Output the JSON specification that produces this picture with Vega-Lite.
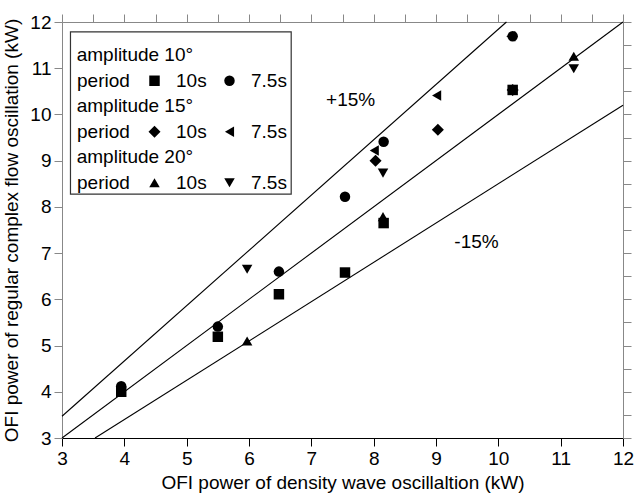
{
  "$schema": "https://vega.github.io/schema/vega-lite/v6.json",
  "width": 561,
  "height": 416,
  "autosize": "none",
  "padding": {"left": 62, "top": 22, "right": 12, "bottom": 55},
  "background": "white",
  "config": {
    "view": {"stroke": null},
    "font": "Liberation Sans",
    "axis": {
      "labelFont": "Liberation Sans",
      "labelFontSize": 19,
      "labelColor": "black",
      "titleFont": "Liberation Sans",
      "titleFontSize": 19,
      "titleFontWeight": "normal",
      "titleColor": "black",
      "grid": false,
      "labelOverlap": false,
      "labelFlush": false
    },
    "legend": {
      "labelFont": "Liberation Sans",
      "labelFontSize": 19,
      "labelColor": "black",
      "titleFont": "Liberation Sans",
      "titleFontSize": 19,
      "titleFontWeight": "normal",
      "titleColor": "black",
      "symbolSize": 110,
      "symbolFillColor": "black",
      "symbolStrokeColor": "black",
      "symbolStrokeWidth": 0,
      "labelOffset": 12,
      "columnPadding": 13,
      "titlePadding": 15,
      "titleOrient": "left",
      "padding": 0,
      "titleLimit": 400,
      "labelLimit": 200
    }
  },
  "datasets": {
    "points": [
      {"amplitude": "10°", "period": "10s", "x": 3.95, "y": 4.0},
      {"amplitude": "10°", "period": "10s", "x": 5.5, "y": 5.19},
      {"amplitude": "10°", "period": "10s", "x": 6.48, "y": 6.11},
      {"amplitude": "10°", "period": "10s", "x": 7.54, "y": 6.58},
      {"amplitude": "10°", "period": "10s", "x": 8.16, "y": 7.65},
      {"amplitude": "10°", "period": "10s", "x": 10.23, "y": 10.53},
      {"amplitude": "10°", "period": "7.5s", "x": 3.95, "y": 4.12},
      {"amplitude": "10°", "period": "7.5s", "x": 5.5, "y": 5.41},
      {"amplitude": "10°", "period": "7.5s", "x": 6.48, "y": 6.6},
      {"amplitude": "10°", "period": "7.5s", "x": 7.54, "y": 8.22},
      {"amplitude": "10°", "period": "7.5s", "x": 8.16, "y": 9.41},
      {"amplitude": "10°", "period": "7.5s", "x": 10.23, "y": 11.69},
      {"amplitude": "15°", "period": "10s", "x": 8.03, "y": 9.0},
      {"amplitude": "15°", "period": "10s", "x": 9.03, "y": 9.67},
      {"amplitude": "15°", "period": "10s", "x": 10.23, "y": 10.53},
      {"amplitude": "15°", "period": "7.5s", "x": 8.01, "y": 9.22},
      {"amplitude": "15°", "period": "7.5s", "x": 9.01, "y": 10.41},
      {"amplitude": "15°", "period": "7.5s", "x": 10.2, "y": 11.69},
      {"amplitude": "20°", "period": "10s", "x": 5.97, "y": 5.1},
      {"amplitude": "20°", "period": "10s", "x": 8.15, "y": 7.79},
      {"amplitude": "20°", "period": "10s", "x": 11.21, "y": 11.26},
      {"amplitude": "20°", "period": "7.5s", "x": 5.97, "y": 6.65},
      {"amplitude": "20°", "period": "7.5s", "x": 8.15, "y": 8.73},
      {"amplitude": "20°", "period": "7.5s", "x": 11.21, "y": 10.99}
    ],
    "lines": [
      {"reference": "+15%", "x": 3, "y": 3.47},
      {"reference": "+15%", "x": 10.13, "y": 12},
      {"reference": "equal", "x": 3, "y": 3},
      {"reference": "equal", "x": 12, "y": 12},
      {"reference": "-15%", "x": 3.53, "y": 3},
      {"reference": "-15%", "x": 12, "y": 10.2}
    ]
  },
  "layer": [
    {
      "data": {"values": [{}]},
      "mark": {"type": "rect", "filled": false, "stroke": "#333333", "strokeWidth": 1.2},
      "encoding": {
        "x": {"datum": 3.136, "type": "quantitative", "scale": {"domain": [3, 12], "nice": false, "zero": false}, "axis": null},
        "x2": {"datum": 6.677},
        "y": {"datum": 11.785, "type": "quantitative", "scale": {"domain": [3, 12], "nice": false, "zero": false}, "axis": null},
        "y2": {"datum": 8.278}
      }
    },
    {
      "data": {"name": "lines"},
      "transform": [{"filter": "datum.reference !== 'equal'"}],
      "mark": {"type": "line", "color": "black", "strokeWidth": 1.1},
      "encoding": {
        "detail": {"field": "reference", "type": "nominal"},
        "x": {
          "field": "x", "type": "quantitative",
          "scale": {"domain": [3, 12], "nice": false, "zero": false},
          "axis": {
            "orient": "bottom",
            "title": "OFI power of density wave oscillaltion (kW)",
            "values": [3, 3.5, 4, 4.5, 5, 5.5, 6, 6.5, 7, 7.5, 8, 8.5, 9, 9.5, 10, 10.5, 11, 11.5, 12],
            "format": "d",
            "labelExpr": "datum.value % 1 === 0 ? datum.label : ''",
            "domain": true, "ticks": true,
            "domainColor": "black", "tickColor": "black",
            "tickSize": 8,
            "labelPadding": 3,
            "titlePadding": 5
          }
        },
        "y": {
          "field": "y", "type": "quantitative",
          "scale": {"domain": [3, 12], "nice": false, "zero": false},
          "axis": {
            "orient": "left",
            "title": "OFI power of regular complex flow oscillation (kW)",
            "values": [3, 3.5, 4, 4.5, 5, 5.5, 6, 6.5, 7, 7.5, 8, 8.5, 9, 9.5, 10, 10.5, 11, 11.5, 12],
            "format": "d",
            "labelExpr": "datum.value % 1 === 0 ? datum.label : ''",
            "domain": true, "ticks": true,
            "tickSize": 8,
            "labelPadding": 3,
            "titlePadding": 8
          }
        }
      }
    },
    {
      "data": {"name": "lines"},
      "transform": [{"filter": "datum.reference === 'equal'"}],
      "mark": {"type": "line", "color": "black", "strokeWidth": 1.1},
      "encoding": {
        "x": {
          "field": "x", "type": "quantitative",
          "scale": {"domain": [3, 12], "nice": false, "zero": false},
          "axis": {
            "orient": "top", "title": null, "labels": false,
            "values": [3, 3.5, 4, 4.5, 5, 5.5, 6, 6.5, 7, 7.5, 8, 8.5, 9, 9.5, 10, 10.5, 11, 11.5, 12],
            "tickSize": 8
          }
        },
        "y": {
          "field": "y", "type": "quantitative",
          "scale": {"domain": [3, 12], "nice": false, "zero": false},
          "axis": {
            "orient": "right", "title": null, "labels": false,
            "values": [3, 3.5, 4, 4.5, 5, 5.5, 6, 6.5, 7, 7.5, 8, 8.5, 9, 9.5, 10, 10.5, 11, 11.5, 12],
            "tickSize": 8
          }
        }
      }
    },
    {
      "data": {"name": "points"},
      "transform": [{"filter": "datum.amplitude === '10°'"}],
      "mark": {"type": "point", "filled": true, "color": "black", "opacity": 1, "size": 110},
      "encoding": {
        "x": {"field": "x", "type": "quantitative", "scale": {"domain": [3, 12], "nice": false, "zero": false}, "axis": null},
        "y": {"field": "y", "type": "quantitative", "scale": {"domain": [3, 12], "nice": false, "zero": false}, "axis": null},
        "shape": {
          "field": "period", "type": "nominal",
          "scale": {"domain": ["10s", "7.5s"], "range": ["square", "circle"]},
          "legend": {"title": "period", "orient": "none", "legendX": 15, "legendY": 49, "direction": "horizontal"}
        }
      }
    },
    {
      "data": {"name": "points"},
      "transform": [{"filter": "datum.amplitude === '15°'"}],
      "mark": {"type": "point", "filled": true, "color": "black", "opacity": 1, "size": 110},
      "encoding": {
        "x": {"field": "x", "type": "quantitative", "scale": {"domain": [3, 12], "nice": false, "zero": false}, "axis": null},
        "y": {"field": "y", "type": "quantitative", "scale": {"domain": [3, 12], "nice": false, "zero": false}, "axis": null},
        "shape": {
          "field": "period", "type": "nominal",
          "scale": {"domain": ["10s", "7.5s"], "range": ["M-1.15,0L0,-1.15L1.15,0L0,1.15Z", "triangle-left"]},
          "legend": {"title": "period", "orient": "none", "legendX": 15, "legendY": 100, "direction": "horizontal"}
        }
      }
    },
    {
      "data": {"name": "points"},
      "transform": [{"filter": "datum.amplitude === '20°'"}],
      "mark": {"type": "point", "filled": true, "color": "black", "opacity": 1, "size": 110},
      "encoding": {
        "x": {"field": "x", "type": "quantitative", "scale": {"domain": [3, 12], "nice": false, "zero": false}, "axis": null},
        "y": {"field": "y", "type": "quantitative", "scale": {"domain": [3, 12], "nice": false, "zero": false}, "axis": null},
        "shape": {
          "field": "period", "type": "nominal",
          "scale": {"domain": ["10s", "7.5s"], "range": ["triangle-up", "triangle-down"]},
          "legend": {"title": "period", "orient": "none", "legendX": 15, "legendY": 151, "direction": "horizontal"}
        }
      }
    },
    {
      "data": {"values": [{}]},
      "mark": {"type": "text", "text": "amplitude 10°", "font": "Liberation Sans", "fontSize": 19, "color": "black", "align": "left", "baseline": "middle"},
      "encoding": {
        "x": {"datum": 3.236, "type": "quantitative", "scale": {"domain": [3, 12], "nice": false, "zero": false}, "axis": null},
        "y": {"datum": 11.286, "type": "quantitative", "scale": {"domain": [3, 12], "nice": false, "zero": false}, "axis": null}
      }
    },
    {
      "data": {"values": [{}]},
      "mark": {"type": "text", "text": "amplitude 15°", "font": "Liberation Sans", "fontSize": 19, "color": "black", "align": "left", "baseline": "middle"},
      "encoding": {
        "x": {"datum": 3.236, "type": "quantitative", "scale": {"domain": [3, 12], "nice": false, "zero": false}, "axis": null},
        "y": {"datum": 10.183, "type": "quantitative", "scale": {"domain": [3, 12], "nice": false, "zero": false}, "axis": null}
      }
    },
    {
      "data": {"values": [{}]},
      "mark": {"type": "text", "text": "amplitude 20°", "font": "Liberation Sans", "fontSize": 19, "color": "black", "align": "left", "baseline": "middle"},
      "encoding": {
        "x": {"datum": 3.236, "type": "quantitative", "scale": {"domain": [3, 12], "nice": false, "zero": false}, "axis": null},
        "y": {"datum": 9.08, "type": "quantitative", "scale": {"domain": [3, 12], "nice": false, "zero": false}, "axis": null}
      }
    },
    {
      "data": {"values": [{}]},
      "mark": {"type": "text", "text": "+15%", "font": "Liberation Sans", "fontSize": 19, "color": "black", "align": "center", "baseline": "middle"},
      "encoding": {
        "x": {"datum": 7.63, "type": "quantitative", "scale": {"domain": [3, 12], "nice": false, "zero": false}, "axis": null},
        "y": {"datum": 10.32, "type": "quantitative", "scale": {"domain": [3, 12], "nice": false, "zero": false}, "axis": null}
      }
    },
    {
      "data": {"values": [{}]},
      "mark": {"type": "text", "text": "-15%", "font": "Liberation Sans", "fontSize": 19, "color": "black", "align": "center", "baseline": "middle"},
      "encoding": {
        "x": {"datum": 9.65, "type": "quantitative", "scale": {"domain": [3, 12], "nice": false, "zero": false}, "axis": null},
        "y": {"datum": 7.24, "type": "quantitative", "scale": {"domain": [3, 12], "nice": false, "zero": false}, "axis": null}
      }
    }
  ],
  "resolve": {
    "axis": {"x": "independent", "y": "independent"},
    "scale": {"shape": "independent"},
    "legend": {"shape": "independent"}
  }
}
